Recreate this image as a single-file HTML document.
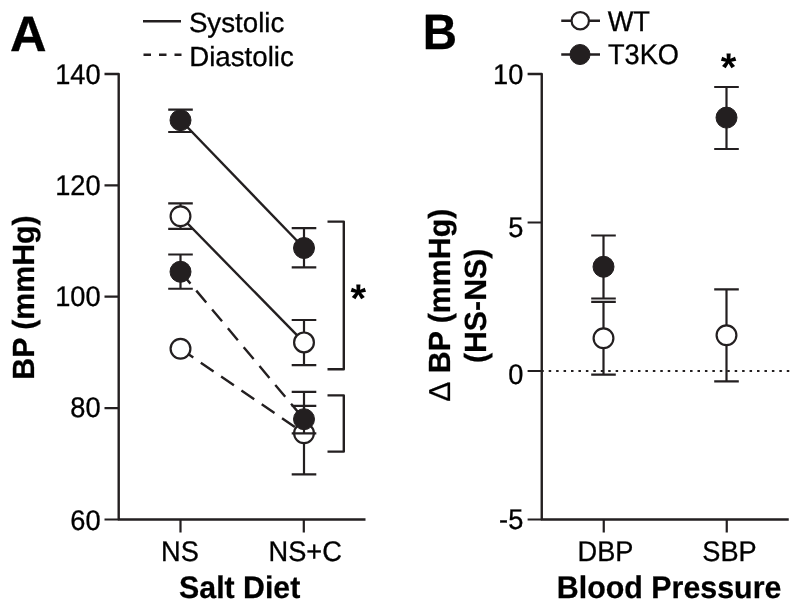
<!DOCTYPE html>
<html lang="en">
<head>
<meta charset="utf-8">
<title>Figure</title>
<style>
html,body{margin:0;padding:0;background:#fff;}
body{width:800px;height:610px;overflow:hidden;}
svg{display:block;}
text{font-family:"Liberation Sans",Arial,sans-serif;fill:#000;text-rendering:geometricPrecision;}
.r{font-size:27.2px;stroke:#000;stroke-width:0.3px;}
.lg{font-size:27.7px;stroke:#000;stroke-width:0.3px;}
.b{font-size:30.3px;font-weight:bold;stroke:#000;stroke-width:0.25px;}
.p{font-size:47.5px;font-weight:bold;stroke:#000;stroke-width:0.3px;}
.s{font-size:40px;font-weight:bold;}
.ax{stroke:#231f20;stroke-width:2.4;fill:none;stroke-linejoin:round;}
.tk{stroke:#231f20;stroke-width:2.2;fill:none;}
.eb{stroke:#231f20;stroke-width:2.2;fill:none;}
.ln{stroke:#231f20;stroke-width:2.4;fill:none;}
.o{fill:#fff;stroke:#231f20;stroke-width:2.2;}
.f{fill:#231f20;stroke:#231f20;stroke-width:1;}
</style>
</head>
<body>
<svg width="800" height="610" viewBox="0 0 800 610">
<rect width="800" height="610" fill="#fff"/>

<!-- Panel A -->
<text class="p" transform="translate(9.9 51) scale(1.065 1.045)">A</text>
<line class="ln" x1="143" y1="21.25" x2="181" y2="21.25"/>
<line class="ln" x1="143.5" y1="54.75" x2="181.5" y2="54.75" stroke-dasharray="7.5 8"/>
<text class="lg" transform="translate(188.9 32.4) scale(1 1.0)">Systolic</text>
<text class="lg" transform="translate(189.2 65.6) scale(1 1.0)">Diastolic</text>
<path class="ax" d="M104.5 74H118.7V519.5H365.5"/>
<path class="tk" d="M104.5 185.3H118.7M104.5 296.7H118.7M104.5 408.1H118.7M104.5 519.5H118.7"/>
<path class="tk" d="M180.5 519.5V532.6M303.8 519.5V532.6"/>
<text class="r" text-anchor="end" transform="translate(100.6 84.4) scale(1 1.045)">140</text>
<text class="r" text-anchor="end" transform="translate(100.6 195.2) scale(1 1.045)">120</text>
<text class="r" text-anchor="end" transform="translate(100.6 306.4) scale(1 1.045)">100</text>
<text class="r" text-anchor="end" transform="translate(100.6 416.8) scale(1 1.045)">80</text>
<text class="r" text-anchor="end" transform="translate(100.6 529.6) scale(1 1.045)">60</text>
<text class="r" text-anchor="middle" transform="translate(180.0 560.9) scale(1 1.045)">NS</text>
<text class="r" text-anchor="middle" transform="translate(305.2 560.9) scale(1 1.045)">NS+C</text>
<text class="b" text-anchor="middle" transform="translate(239.7 598.1) scale(1 1.03)">Salt Diet</text>
<text class="b" text-anchor="middle" transform="translate(34.4 297.5) rotate(-90) scale(1 1.01)" style="font-size:30.3px">BP (mmHg)</text>
<line class="ln" x1="180.5" y1="120" x2="304" y2="248"/>
<line class="ln" x1="180.5" y1="216.25" x2="304" y2="342.4"/>
<line class="ln" x1="180.5" y1="271.75" x2="304" y2="419.2" stroke-dasharray="15.5 9.1"/>
<line class="ln" x1="180.5" y1="348.75" x2="304" y2="433.2" stroke-dasharray="15.5 9.1"/>
<path class="eb" d="M180.5 203.4V228.8M168.2 203.4H192.8M168.2 228.8H192.8"/>
<circle class="o" cx="180.5" cy="216.25" r="9.9"/>
<path class="eb" d="M304 320V365.2M291.7 320H316.3M291.7 365.2H316.3"/>
<circle class="o" cx="304" cy="342.4" r="9.9"/>
<circle class="o" cx="180.5" cy="348.75" r="9.9"/>
<path class="eb" d="M304 391.8V474.4M291.7 391.8H316.3M291.7 474.4H316.3"/>
<circle class="o" cx="304" cy="433.2" r="9.9"/>
<path class="eb" d="M180.5 109.6V132M168.2 109.6H192.8M168.2 132H192.8"/>
<circle class="f" cx="180.5" cy="120.2" r="10.5"/>
<path class="eb" d="M304 228.2V267.4M291.7 228.2H316.3M291.7 267.4H316.3"/>
<circle class="f" cx="304" cy="248" r="10.5"/>
<path class="eb" d="M180.5 254.5V288.75M168.2 254.5H192.8M168.2 288.75H192.8"/>
<circle class="f" cx="180.5" cy="271.75" r="10.5"/>
<path class="eb" d="M304 405.8V433.4M291.7 405.8H316.3M291.7 433.4H316.3"/>
<circle class="f" cx="304" cy="419.2" r="10.5"/>
<path class="ax" stroke-linejoin="miter" d="M327.5 221.6H343.8V369.2H327.5"/>
<path class="ax" stroke-linejoin="miter" d="M327.5 395.4H343.8V451.6H327.5"/>
<text class="s" x="350.5" y="312">*</text>
<!-- Panel B -->
<text class="p" transform="translate(422.8 49.25) scale(1 1.045)">B</text>
<line class="ln" x1="561.25" y1="20.75" x2="600" y2="20.75"/>
<circle class="o" cx="580.25" cy="20.75" r="8.7"/>
<line class="ln" x1="561.25" y1="54.5" x2="600" y2="54.5"/>
<circle class="f" cx="580" cy="54.5" r="10"/>
<text class="r" transform="translate(607.7 30.7) scale(1 1.045)">WT</text>
<text class="r" transform="translate(608 64.3) scale(1 1.045)">T3KO</text>
<path class="ax" d="M527.6 74H541.75V519.5H788.75"/>
<path class="tk" d="M527.6 222.5H541.75M527.6 371H541.75M527.6 519.5H541.75"/>
<path class="tk" d="M603.75 519.5V532.6M726.75 519.5V532.6"/>
<line class="tk" x1="541.25" y1="371" x2="789.5" y2="371" stroke-dasharray="2.5 4.94"/>
<text class="r" text-anchor="end" transform="translate(523.3 84.3) scale(1 1.045)">10</text>
<text class="r" text-anchor="end" transform="translate(523.3 236.5) scale(1 1.045)">5</text>
<text class="r" text-anchor="end" transform="translate(523.3 383.9) scale(1 1.045)">0</text>
<text class="r" text-anchor="end" transform="translate(523.3 529.1) scale(1 1.045)">-5</text>
<text class="r" text-anchor="middle" transform="translate(605.5 560.9) scale(1 1.045)">DBP</text>
<text class="r" text-anchor="middle" transform="translate(729.5 560.9) scale(1 1.045)">SBP</text>
<text class="b" text-anchor="middle" transform="translate(669.1 598.1) scale(1 1.03)" style="font-size:30.4px">Blood Pressure</text>
<text class="b" text-anchor="middle" transform="translate(449.8 305.2) rotate(-90) scale(1 1.01)"><tspan font-weight="normal" style="font-size:30px">Δ</tspan> BP (mmHg)</text>
<text class="b" text-anchor="middle" transform="translate(485.7 305.9) rotate(-90) scale(1 1.01)">(HS-NS)</text>
<path class="eb" d="M603.5 301.9V374.6M591.2 301.9H615.8M591.2 374.6H615.8"/>
<circle class="o" cx="603.5" cy="338.25" r="9.9"/>
<path class="eb" d="M603.5 235.5V298.5M591.2 235.5H615.8M591.2 298.5H615.8"/>
<circle class="f" cx="603.5" cy="266.75" r="10.5"/>
<path class="eb" d="M726.5 289.4V381.4M714.2 289.4H738.8M714.2 381.4H738.8"/>
<circle class="o" cx="726.5" cy="335.3" r="9.9"/>
<path class="eb" d="M726.5 87V149M714.2 87H738.8M714.2 149H738.8"/>
<circle class="f" cx="726.5" cy="117.6" r="10.5"/>
<text class="s" x="720.7" y="80.5">*</text>
</svg>
</body>
</html>
